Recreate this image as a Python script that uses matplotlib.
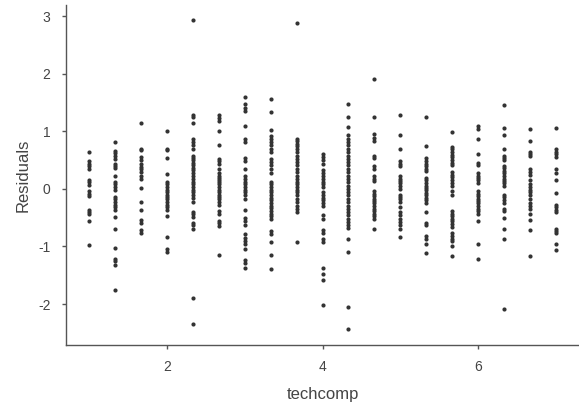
import numpy as np
import matplotlib
matplotlib.use("Agg")
import matplotlib.pyplot as plt

plt.rcParams['font.family'] = ['Liberation Sans', 'DejaVu Sans']
plt.rcParams['axes.unicode_minus'] = False

# techcomp levels (1 to 7 in steps of 1/3)
techcomp_levels = [1, 4/3, 5/3, 2, 7/3, 8/3, 3, 10/3, 11/3, 4,
                   13/3, 14/3, 5, 16/3, 17/3, 6, 19/3, 20/3, 7]

# residuals, one list per techcomp level
res_1_00 = [0.64, 0.48, 0.44, 0.40, 0.35, 0.16, 0.12, 0.07, -0.04, -0.08, -0.12,
            -0.36, -0.40, -0.44, -0.56, -0.98]
res_1_33 = [0.81, 0.66, 0.62, 0.57, 0.53, 0.44, 0.40, 0.36, 0.23, 0.12, 0.08, 0.04,
            -0.01, -0.14, -0.18, -0.23, -0.27, -0.31, -0.36, -0.49, -0.70, -1.03,
            -1.21, -1.26, -1.33, -1.76]
res_1_67 = [1.15, 0.70, 0.67, 0.55, 0.51, 0.43, 0.38, 0.34, 0.29, 0.22, 0.18, 0.02,
            -0.22, -0.37, -0.54, -0.59, -0.71, -0.76]
res_2_00 = [1.00, 0.70, 0.67, 0.54, 0.26, 0.12, 0.08, 0.04, -0.01, -0.05, -0.10,
            -0.14, -0.18, -0.23, -0.27, -0.31, -0.36, -0.47, -0.83, -1.05, -1.09]
res_2_33 = [2.93, 1.29, 1.25, 1.14, 0.87, 0.81, 0.76, 0.70, 0.58, 0.54, 0.50, 0.45,
            0.41, 0.37, 0.33, 0.28, 0.22, 0.18, 0.12, 0.08, 0.03, -0.01, -0.05,
            -0.10, -0.15, -0.23, -0.40, -0.44, -0.48, -0.59, -0.63, -0.70, -1.90,
            -2.35]
res_2_67 = [1.28, 1.24, 1.19, 1.00, 0.77, 0.52, 0.48, 0.44, 0.35, 0.28, 0.23, 0.19,
            0.15, 0.12, 0.08, 0.04, -0.01, -0.05, -0.10, -0.14, -0.18, -0.23,
            -0.27, -0.38, -0.43, -0.56, -0.60, -0.65, -1.14]
res_3_00 = [1.60, 1.47, 1.41, 1.35, 1.09, 0.87, 0.81, 0.54, 0.48, 0.35, 0.22, 0.18,
            0.12, 0.08, 0.03, -0.01, -0.05, -0.11, -0.17, -0.37, -0.50, -0.56,
            -0.62, -0.79, -0.85, -0.91, -0.96, -1.04, -1.24, -1.29, -1.37]
res_3_33 = [1.57, 1.34, 1.03, 0.92, 0.87, 0.81, 0.76, 0.70, 0.64, 0.52, 0.47, 0.41,
            0.34, 0.28, 0.12, 0.08, 0.04, -0.01, -0.05, -0.10, -0.15, -0.19,
            -0.24, -0.29, -0.33, -0.38, -0.43, -0.47, -0.53, -0.73, -0.79, -0.92,
            -1.14, -1.39]
res_3_67 = [2.88, 0.87, 0.83, 0.79, 0.74, 0.70, 0.64, 0.58, 0.52, 0.47, 0.41, 0.35,
            0.29, 0.23, 0.18, 0.12, 0.08, 0.04, -0.01, -0.05, -0.11, -0.17, -0.23,
            -0.29, -0.34, -0.40, -0.92]
res_4_00 = [0.60, 0.56, 0.51, 0.43, 0.33, 0.28, 0.23, 0.18, 0.12, 0.08, 0.04, -0.05,
            -0.11, -0.15, -0.19, -0.24, -0.30, -0.46, -0.52, -0.71, -0.77, -0.87,
            -0.92, -1.37, -1.47, -1.58, -2.02]
res_4_33 = [1.47, 1.25, 1.08, 0.93, 0.87, 0.81, 0.76, 0.70, 0.64, 0.58, 0.52, 0.47,
            0.41, 0.35, 0.29, 0.23, 0.18, 0.12, 0.06, 0.00, -0.05, -0.11, -0.17,
            -0.23, -0.29, -0.34, -0.40, -0.46, -0.52, -0.58, -0.63, -0.67, -0.87,
            -1.10, -2.06, -2.44]
res_4_67 = [1.91, 1.26, 0.95, 0.89, 0.83, 0.58, 0.54, 0.40, 0.35, 0.22, 0.18, 0.14,
            -0.04, -0.08, -0.12, -0.17, -0.21, -0.25, -0.30, -0.34, -0.38, -0.43,
            -0.47, -0.53, -0.70]
res_5_00 = [1.29, 0.93, 0.69, 0.48, 0.44, 0.40, 0.22, 0.18, 0.14, 0.10, 0.05, 0.00,
            -0.10, -0.14, -0.18, -0.23, -0.31, -0.40, -0.46, -0.53, -0.58, -0.63,
            -0.70, -0.83]
res_5_33 = [1.25, 0.74, 0.54, 0.48, 0.44, 0.40, 0.35, 0.31, 0.19, 0.15, 0.11, 0.06,
            0.02, -0.02, -0.07, -0.11, -0.15, -0.19, -0.24, -0.40, -0.59, -0.63,
            -0.82, -0.87, -0.96, -1.12]
res_5_67 = [0.99, 0.73, 0.69, 0.64, 0.59, 0.55, 0.50, 0.45, 0.41, 0.29, 0.25, 0.20,
            0.15, 0.11, 0.06, -0.04, -0.10, -0.38, -0.43, -0.47, -0.52, -0.56,
            -0.61, -0.66, -0.77, -0.82, -0.87, -0.91, -0.99, -1.17]
res_6_00 = [1.09, 1.04, 0.87, 0.60, 0.45, 0.41, 0.28, 0.23, 0.19, 0.15, 0.11, -0.04,
            -0.08, -0.12, -0.17, -0.21, -0.25, -0.30, -0.34, -0.38, -0.43, -0.56,
            -0.95, -1.21]
res_6_33 = [1.46, 1.06, 0.93, 0.69, 0.58, 0.54, 0.50, 0.40, 0.36, 0.31, 0.27, 0.22,
            0.18, 0.14, 0.10, 0.05, -0.10, -0.14, -0.19, -0.24, -0.34, -0.38,
            -0.50, -0.69, -0.87, -2.08]
res_6_67 = [1.04, 0.83, 0.64, 0.60, 0.57, 0.34, 0.29, 0.25, 0.16, 0.08, 0.04, -0.01,
            -0.05, -0.10, -0.17, -0.25, -0.30, -0.34, -0.43, -0.54, -0.71, -1.17]
res_7_00 = [1.06, 0.69, 0.64, 0.60, 0.56, 0.35, 0.27, 0.15, -0.07, -0.27, -0.31,
            -0.36, -0.40, -0.69, -0.73, -0.77, -0.96, -1.06]

residual_groups = [res_1_00, res_1_33, res_1_67, res_2_00, res_2_33, res_2_67,
                   res_3_00, res_3_33, res_3_67, res_4_00, res_4_33, res_4_67,
                   res_5_00, res_5_33, res_5_67, res_6_00, res_6_33, res_6_67,
                   res_7_00]

xs = np.concatenate([[lvl] * len(g) for lvl, g in zip(techcomp_levels, residual_groups)])
ys = np.concatenate(residual_groups)

fig = plt.figure(figsize=(5.79, 4.12), dpi=100)
ax = fig.add_axes([0.1135, 0.163, 0.887, 0.825])

ax.scatter(xs, ys, s=9, color='#333333', linewidths=0)

ax.set_xlim(0.7, 7.3)
ax.set_ylim(-2.71, 3.2)
ax.set_xticks([2, 4, 6])
ax.set_yticks([-2, -1, 0, 1, 2, 3])

for side in ['top', 'right']:
    ax.spines[side].set_visible(False)
for side in ['left', 'bottom']:
    ax.spines[side].set_color('#555555')
    ax.spines[side].set_linewidth(1.0)

ax.tick_params(axis='both', length=3, width=1, color='#555555',
               labelsize=10, labelcolor='#444444', pad=8)

ax.set_xlabel('techcomp', fontsize=12, color='#444444', labelpad=9)
ax.set_ylabel('Residuals', fontsize=12, color='#444444', labelpad=5)

fig.savefig('out.png', dpi=100)
